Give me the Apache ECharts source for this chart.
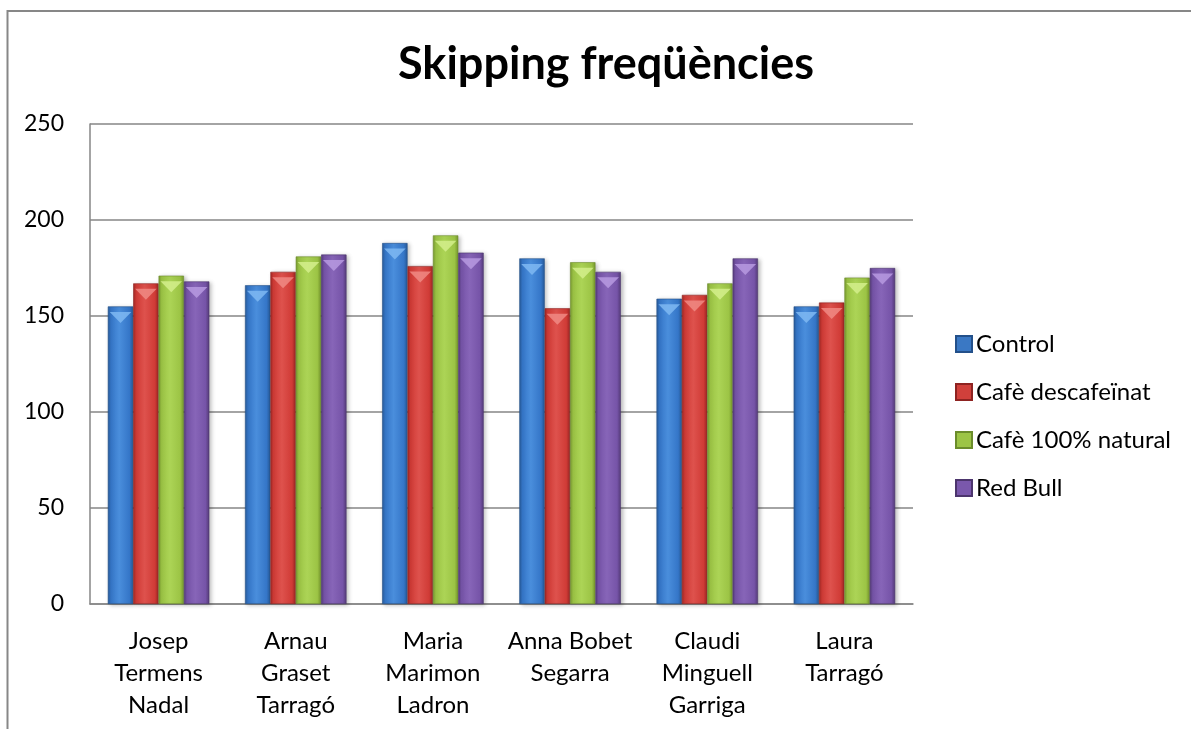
<!DOCTYPE html>
<html>
<head>
<meta charset="utf-8">
<script src="https://cdn.jsdelivr.net/npm/echarts@6/dist/echarts.min.js"></script>
<style>html,body{margin:0;padding:0;background:#fff}#c{width:1191px;height:729px}</style>
</head>
<body>
<div id="c"></div>
<script>
const categories = ["Josep\nTermens\nNadal", "Arnau\nGraset\nTarragó", "Maria\nMarimon\nLadron", "Anna Bobet\nSegarra", "Claudi\nMinguell\nGarriga", "Laura\nTarragó"];
const seriesNames = ["Control", "Cafè descafeïnat", "Cafè 100% natural", "Red Bull"];
const control = [155, 166, 188, 180, 159, 155];
const descafeinat = [167, 173, 176, 154, 161, 157];
const natural = [171, 181, 192, 178, 167, 170];
const redBull = [168, 182, 183, 173, 180, 175];
const yTicks = [0, 50, 100, 150, 200, 250];

const values = [control, descafeinat, natural, redBull];
const palette = [
  {dark:'#285a98', mid:'#3576c8', light:'#4a8edc', edge:'#23508a', tri:'#7fb8f2', leg:'#3a78c4'},
  {dark:'#a02825', mid:'#d03b36', light:'#de524d', edge:'#8e2321', tri:'#f08a84', leg:'#d0403b'},
  {dark:'#77992f', mid:'#9cc445', light:'#acd456', edge:'#6b8c2b', tri:'#d3ef8c', leg:'#9cc445'},
  {dark:'#553b7a', mid:'#7654a8', light:'#8765b8', edge:'#4c356d', tri:'#b79ae0', leg:'#7a58ac'}
];
const font = 'Lato, "Open Sans", sans-serif';

function grad(p){
  return new echarts.graphic.LinearGradient(0,0,1,0,[
    {offset:0,color:p.dark},{offset:0.12,color:p.mid},{offset:0.45,color:p.light},
    {offset:0.85,color:p.mid},{offset:1,color:p.dark}]);
}

const series = [];
values.forEach((v,i)=>{
  series.push({
    name: seriesNames[i], type:'bar', data:v,
    barGap:'0%', barCategoryGap:'26%',
    itemStyle:{color:grad(palette[i]), borderColor:palette[i].edge, borderWidth:0.6,
      shadowColor:'rgba(0,0,0,0.25)', shadowBlur:4, shadowOffsetX:2, shadowOffsetY:1},
    z:2
  });
});
values.forEach((v,i)=>{
  series.push({
    name: seriesNames[i]+'_top', type:'pictorialBar', data:v,
    barGap:'0%', barCategoryGap:'26%',
    symbol:'path://M0,0 L10,0 L5,6 Z',
    symbolSize:['85%',11], symbolPosition:'end', symbolOffset:[0,'50%'],
    itemStyle:{color:palette[i].tri, opacity:0.85},
    z:3, silent:true, legendHoverLink:false
  });
});

const chart = echarts.init(document.getElementById('c'));
chart.setOption({
  animation:false,
  backgroundColor:'#fff',
  title:{text:'Skipping freqüències', left:601, top:37, textAlign:'center',
    textStyle:{fontFamily:font, fontWeight:'bold', fontSize:45, color:'#000'}},
  legend:{orient:'vertical', left:950, top:327, itemGap:24, itemWidth:16, itemHeight:16,
    data: seriesNames.map((n,i)=>({name:n, icon:'rect', itemStyle:{color:palette[i].leg}})),
    textStyle:{fontFamily:font, fontSize:24, color:'#000', padding:[0,0,0,-1]}},
  grid:{left:90, right:278, top:124, bottom:125},
  xAxis:{type:'category', data:categories,
    axisLine:{lineStyle:{color:'#868686', width:1.5}}, axisTick:{show:false},
    axisLabel:{fontFamily:font, fontSize:24, color:'#000', lineHeight:32, margin:21, interval:0}},
  yAxis:{type:'value', min:yTicks[0], max:yTicks[yTicks.length-1], interval:50,
    axisLine:{show:true, lineStyle:{color:'#868686', width:1.5}}, axisTick:{show:false},
    splitLine:{lineStyle:{color:'#868686', width:1.5}},
    axisLabel:{fontFamily:font, fontSize:23, color:'#000', margin:26}},
  graphic:[{type:'rect', shape:{x:7.5, y:11, width:1300, height:800},
    style:{fill:null, stroke:'#878787', lineWidth:2}, silent:true, z:-1}],
  series: series
});
</script>
</body>
</html>
